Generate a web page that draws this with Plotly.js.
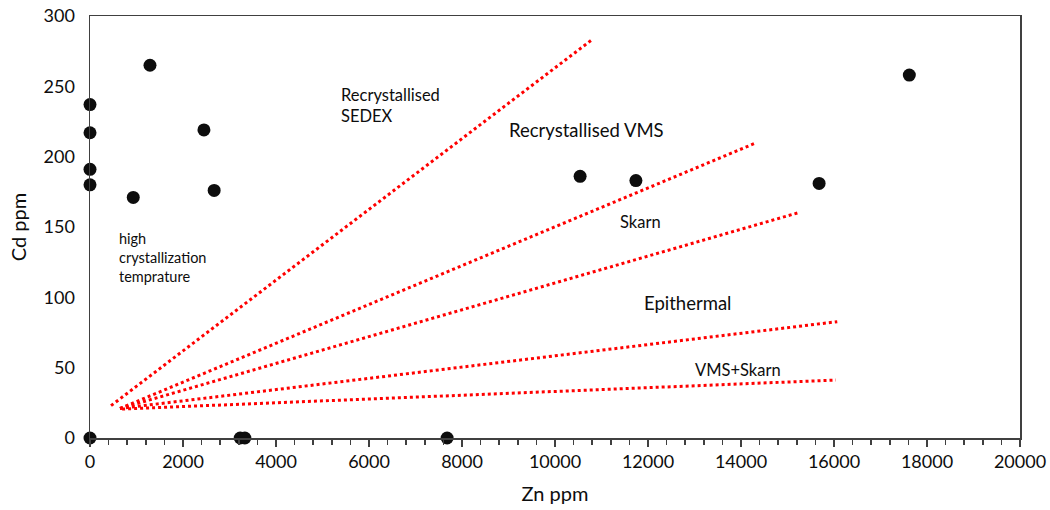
<!DOCTYPE html>
<html>
<head>
<meta charset="utf-8">
<script src="https://cdn.plot.ly/plotly-3.0.1.min.js"></script>
<style>
  html, body { margin: 0; padding: 0; background: #ffffff; }
  #chart { width: 1050px; height: 510px; }
</style>
</head>
<body>
<div id="chart"></div>
<script>
// Sample analyses: Zn and Cd concentrations (ppm)
const znPpm = [0, 0, 0, 0, 0, 1290, 930, 2450, 2670, 3230, 3330, 7680, 10540, 11740, 15680, 17620];
const cdPpm = [237, 217, 191, 180, 0, 265, 171, 219, 176, 0, 0, 0, 186, 183, 181, 258];

// Discrimination boundaries between deposit types (start and end points)
const boundaryZn = [
  [452, 10790],
  [645, 14300],
  [645, 15270],
  [645, 16070],
  [690, 16040]
];
const boundaryCd = [
  [23, 283],
  [21, 209.5],
  [21, 160.5],
  [21, 82.7],
  [20.6, 41.2]
];

// Field labels
const fieldLabels = [
  'Recrystallised<br>SEDEX',
  'Recrystallised VMS',
  'Skarn',
  'Epithermal',
  'VMS+Skarn',
  'high<br>crystallization<br>temprature'
];

const xTicks = [0, 2000, 4000, 6000, 8000, 10000, 12000, 14000, 16000, 18000, 20000];
const yTicks = [0, 50, 100, 150, 200, 250, 300];

const FONT = 'Lato, "Open Sans", sans-serif';
const TEXT = '#0d0d0d';
const AXIS = '#404040';

const traces = boundaryZn.map((xs, i) => ({
  type: 'scatter',
  mode: 'lines',
  x: xs,
  y: boundaryCd[i],
  line: { color: '#ff0000', width: 3, dash: 'dot' },
  hoverinfo: 'skip',
  showlegend: false
}));

traces.push({
  type: 'scatter',
  mode: 'markers',
  x: znPpm,
  y: cdPpm,
  marker: { color: '#0d0d0d', size: 13 },
  cliponaxis: false,
  showlegend: false
});

const labelFont = (size) => ({ family: FONT, size: size, color: TEXT });

const layout = {
  width: 1050,
  height: 510,
  margin: { l: 90, r: 30, t: 16, b: 72 },
  paper_bgcolor: '#ffffff',
  plot_bgcolor: '#ffffff',
  font: { family: FONT, color: TEXT },
  showlegend: false,
  xaxis: {
    range: [0, 20000],
    tickvals: xTicks,
    ticktext: xTicks.map(String),
    ticks: 'outside',
    ticklen: 7,
    tickwidth: 1.5,
    tickcolor: AXIS,
    tickfont: { family: FONT, size: 18, color: TEXT },
    showline: true,
    linecolor: AXIS,
    linewidth: 1.5,
    mirror: true,
    showgrid: false,
    zeroline: false,
    minor: { dtick: 400, ticks: 'outside', ticklen: 5, tickwidth: 1.5, tickcolor: AXIS, showgrid: false },
    title: { text: 'Zn ppm', font: { family: FONT, size: 20, color: TEXT }, standoff: 16 }
  },
  yaxis: {
    range: [0, 300],
    tickvals: yTicks,
    ticktext: yTicks.map(String),
    ticks: '',
    tickfont: { family: FONT, size: 18, color: TEXT },
    ticklabelstandoff: 10,
    showline: true,
    linecolor: AXIS,
    linewidth: 1.5,
    mirror: true,
    showgrid: false,
    zeroline: false,
    title: { text: 'Cd ppm', font: { family: FONT, size: 20, color: TEXT }, standoff: 11 }
  },
  annotations: [
    { x: 5361, y: 236.7, text: fieldLabels[0], xanchor: 'left', align: 'left', font: labelFont(16.5) },
    { x: 8961, y: 219, text: fieldLabels[1], xanchor: 'left', align: 'left', font: labelFont(18.5) },
    { x: 11828, y: 153.8, text: fieldLabels[2], xanchor: 'center', font: labelFont(16.5) },
    { x: 12845, y: 96.2, text: fieldLabels[3], xanchor: 'center', font: labelFont(18.5) },
    { x: 13942, y: 48.3, text: fieldLabels[4], xanchor: 'center', font: labelFont(16.5) },
    { x: 574, y: 128, text: fieldLabels[5], xanchor: 'left', align: 'left', font: labelFont(14.5) }
  ].map(a => Object.assign({ xref: 'x', yref: 'y', showarrow: false, yanchor: 'middle' }, a))
};

Plotly.newPlot('chart', traces, layout, { staticPlot: true });
</script>
</body>
</html>
